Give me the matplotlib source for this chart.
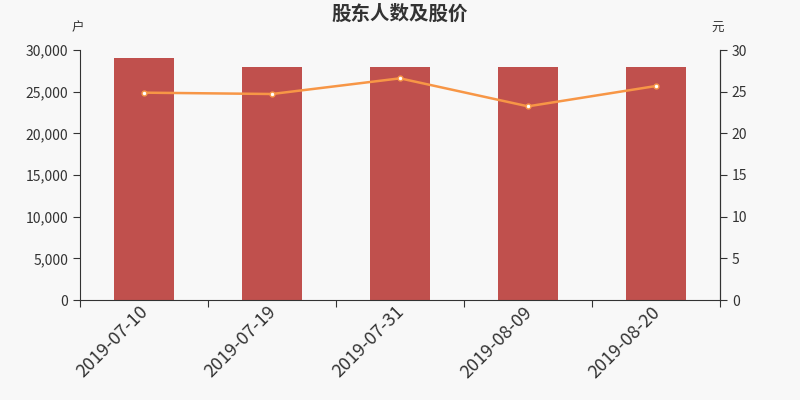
import matplotlib.pyplot as plt
import matplotlib.transforms as mtransforms
import numpy as np

plt.rcParams['font.family'] = ['Noto Sans CJK SC', 'DejaVu Sans']

dates = ['2019-07-10', '2019-07-19', '2019-07-31', '2019-08-09', '2019-08-20']
holders = [29000, 28000, 28000, 28000, 28000]
price = [24.88, 24.72, 26.6, 23.24, 25.68]

bg = '#f8f8f8'
txt = '#333333'

fig = plt.figure(figsize=(8, 4), dpi=100, facecolor=bg)
ax = fig.add_axes([0.1, 0.25, 0.8, 0.625], facecolor=bg)
x = np.arange(len(dates))
ax.bar(x, holders, width=0.47, color='#c0504d', zorder=2)
ax.set_xlim(-0.5, len(dates) - 0.5)
ax.set_ylim(0, 30000)
ax.set_yticks(range(0, 30001, 5000))
ax.set_yticklabels([f'{v:,}' for v in range(0, 30001, 5000)])

# ticks sit between categories, labels drawn as text under each bar
ax.set_xticks(np.arange(-0.5, len(dates), 1.0))
ax.set_xticklabels([])
ax.tick_params(axis='x', length=5, color=txt)
ax.tick_params(axis='y', length=5, color=txt, labelcolor=txt, labelsize=10)
shift = mtransforms.ScaledTranslation(-5 / 100, -3 / 100, fig.dpi_scale_trans)
for xi, d in zip(x, dates):
    ax.text(xi, 0, d, transform=ax.get_xaxis_transform() + shift,
            rotation=45, ha='right', va='top', rotation_mode='anchor',
            fontsize=13, color=txt)

ax.spines['top'].set_visible(False)
for s in ['left', 'bottom', 'right']:
    ax.spines[s].set_color(txt)

ax2 = ax.twinx()
ax2.plot(x, price, color='#f79646', lw=1.8, marker='o', ms=3.5,
         mfc='white', mec='#f79646', mew=1, zorder=3)
ax2.set_ylim(0, 30)
ax2.set_yticks(range(0, 31, 5))
ax2.tick_params(axis='y', length=5, color=txt, labelcolor=txt, labelsize=10)
ax2.spines['top'].set_visible(False)
ax2.spines['right'].set_color(txt)
ax2.spines['left'].set_visible(False)
ax2.spines['bottom'].set_visible(False)

fig.text(0.5, 0.965, '股东人数及股价', ha='center', va='center', fontsize=14,
         fontweight='bold', color=txt)
fig.text(0.0975, 0.93, '户', ha='center', va='center', fontsize=9, color=txt)
fig.text(0.8975, 0.93, '元', ha='center', va='center', fontsize=9, color=txt)

fig.savefig('out.png', dpi=100, facecolor=bg)
